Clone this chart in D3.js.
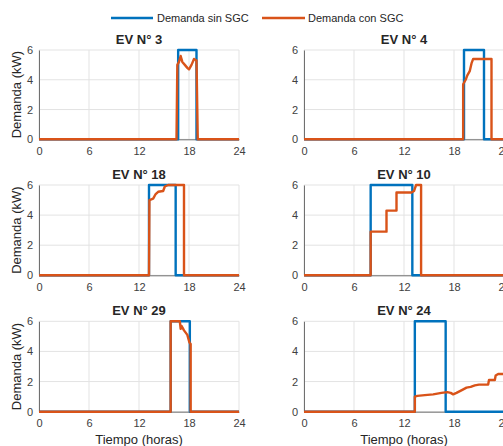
<!DOCTYPE html>
<html>
<head>
<meta charset="utf-8">
<script src="https://cdn.jsdelivr.net/npm/d3@7"></script>
<style>
  html, body { margin: 0; padding: 0; background: #fff; }
  svg { display: block; font-family: "Liberation Sans", Arial, Helvetica, sans-serif; }
</style>
</head>
<body>
<svg id="chart" width="503" height="446"></svg>
<script>
// Demand profiles per EV: [hour, kW] vertices, without and with the charge manager
const seriesNames = ["Demanda sin SGC", "Demanda con SGC"];
const seriesColors = ["#0072BD", "#D95319"];

const xTicks = [0, 6, 12, 18, 24];
const yTicks = [0, 2, 4, 6];

const panelTitles = ["EV N° 3", "EV N° 4", "EV N° 18", "EV N° 10", "EV N° 29", "EV N° 24"];

const ev3Sin = [[0,0],[16.7,0],[16.7,6],[18.9,6],[18.9,0],[24,0]];
const ev3Con = [[0,0],[16.5,0],[16.6,5.0],[16.8,5.2],[17.0,5.6],[17.2,5.2],[17.5,5.0],[17.8,4.8],[18.0,4.7],[18.3,5.0],[18.6,5.4],[18.9,5.3],[19.05,0],[24,0]];

const ev4Sin = [[0,0],[19.2,0],[19.2,6],[21.6,6],[21.6,0],[24,0]];
const ev4Con = [[0,0],[19.1,0],[19.1,3.7],[19.4,4.0],[19.6,4.3],[19.9,4.6],[20.1,5.1],[20.3,5.4],[22.5,5.4],[22.5,0],[24,0]];

const ev18Sin = [[0,0],[13.2,0],[13.2,6],[16.4,6],[16.4,0],[24,0]];
const ev18Con = [[0,0],[13.2,0],[13.25,5.0],[13.7,5.1],[14.0,5.4],[14.3,5.55],[14.9,5.6],[15.1,5.9],[15.5,6.0],[17.4,6.0],[17.4,0],[24,0]];

const ev10Sin = [[0,0],[8.0,0],[8.0,6],[13.0,6],[13.0,0],[24,0]];
const ev10Con = [[0,0],[8.0,0],[8.0,2.9],[9.9,2.9],[9.9,4.3],[11.1,4.3],[11.1,5.5],[12.9,5.5],[13.2,5.6],[13.45,6.0],[14.05,6.0],[14.05,0],[24,0]];

const ev29Sin = [[0,0],[15.8,0],[15.8,6],[18.1,6],[18.1,0],[24,0]];
const ev29Con = [[0,0],[15.8,0],[15.8,6],[16.9,6],[17.0,5.5],[17.1,5.7],[17.4,5.4],[17.8,5.1],[18.05,4.6],[18.2,4.5],[18.2,0],[24,0]];

const ev24Sin = [[0,0],[13.3,0],[13.3,6],[17.0,6],[17.0,0],[24,0]];
const ev24Con = [[0,0],[13.3,0],[13.3,1.0],[13.6,1.05],[14.5,1.1],[15.5,1.15],[16.5,1.25],[17.2,1.3],[17.6,1.25],[17.9,1.15],[18.3,1.25],[19.0,1.45],[19.5,1.6],[20.0,1.65],[20.5,1.75],[21.0,1.8],[22.1,1.8],[22.2,2.1],[22.9,2.1],[23.0,2.4],[23.3,2.5],[24,2.5]];

const panelData = [
  [ev3Sin, ev3Con], [ev4Sin, ev4Con],
  [ev18Sin, ev18Con], [ev10Sin, ev10Con],
  [ev29Sin, ev29Con], [ev24Sin, ev24Con]
];

// Layout of the 3x2 grid of axes
const colX = [39, 304];
const plotW = 200;
const rowY = [[50, 139.3], [185, 275.3], [321.3, 411.7]];

const svg = d3.select("#chart");
const textDark = "#262626";
const tickColor = "#404040";

panelData.forEach((pair, i) => {
  const col = i % 2, row = Math.floor(i / 2);
  const x = d3.scaleLinear().domain([0, 24]).range([colX[col], colX[col] + plotW]);
  const y = d3.scaleLinear().domain([0, 6]).range([rowY[row][1], rowY[row][0]]);
  const g = svg.append("g");

  // grid
  g.append("g").selectAll("line").data(xTicks).join("line")
    .attr("x1", d => x(d)).attr("x2", d => x(d))
    .attr("y1", y(0)).attr("y2", y(6))
    .attr("stroke", "#e3e3e3").attr("stroke-width", 1);
  g.append("g").selectAll("line").data(yTicks).join("line")
    .attr("x1", x(0)).attr("x2", x(24))
    .attr("y1", d => y(d)).attr("y2", d => y(d))
    .attr("stroke", "#e3e3e3").attr("stroke-width", 1);

  // axes
  const xAxis = g.append("g").attr("transform", `translate(0,${y(0)})`)
    .call(d3.axisBottom(x).tickValues(xTicks).tickSize(0).tickPadding(8).tickFormat(d3.format("d")));
  const yAxis = g.append("g").attr("transform", `translate(${x(0)},0)`)
    .call(d3.axisLeft(y).tickValues(yTicks).tickSize(0).tickPadding(6).tickFormat(d3.format("d")));
  [xAxis, yAxis].forEach(a => {
    a.select(".domain").attr("stroke", "#707070").attr("stroke-width", 1);
    a.selectAll("text").attr("fill", tickColor).attr("font-size", 11)
      .attr("font-family", "Liberation Sans, Arial, sans-serif");
  });

  // series lines
  const line = d3.line().x(d => x(d[0])).y(d => y(d[1]));
  pair.forEach((pts, k) => {
    g.append("path").datum(pts)
      .attr("d", line)
      .attr("fill", "none")
      .attr("stroke", seriesColors[k])
      .attr("stroke-width", 2.4)
      .attr("stroke-linejoin", "round");
  });

  // title
  g.append("text")
    .attr("x", x(12)).attr("y", y(6) - 6)
    .attr("text-anchor", "middle")
    .attr("font-size", 13).attr("font-weight", "bold")
    .attr("fill", textDark)
    .text(panelTitles[i]);

  // y label on left column
  if (col === 0) {
    g.append("text")
      .attr("transform", `translate(21,${(y(0) + y(6)) / 2}) rotate(-90)`)
      .attr("text-anchor", "middle")
      .attr("font-size", 13)
      .attr("fill", textDark)
      .text("Demanda (kW)");
  }
  // x label on bottom row
  if (row === 2) {
    g.append("text")
      .attr("x", x(12)).attr("y", 444)
      .attr("text-anchor", "middle")
      .attr("font-size", 13)
      .attr("fill", textDark)
      .text("Tiempo (horas)");
  }
});

// legend
const legendItems = [
  { name: seriesNames[0], color: seriesColors[0], x0: 111, x1: 153, tx: 157 },
  { name: seriesNames[1], color: seriesColors[1], x0: 262, x1: 305, tx: 308 }
];
const lg = svg.append("g");
legendItems.forEach(it => {
  lg.append("line").attr("x1", it.x0).attr("x2", it.x1).attr("y1", 18).attr("y2", 18)
    .attr("stroke", it.color).attr("stroke-width", 2.6);
  lg.append("text").attr("x", it.tx).attr("y", 22)
    .attr("font-size", 11).attr("fill", textDark).text(it.name);
});
</script>
</body>
</html>
